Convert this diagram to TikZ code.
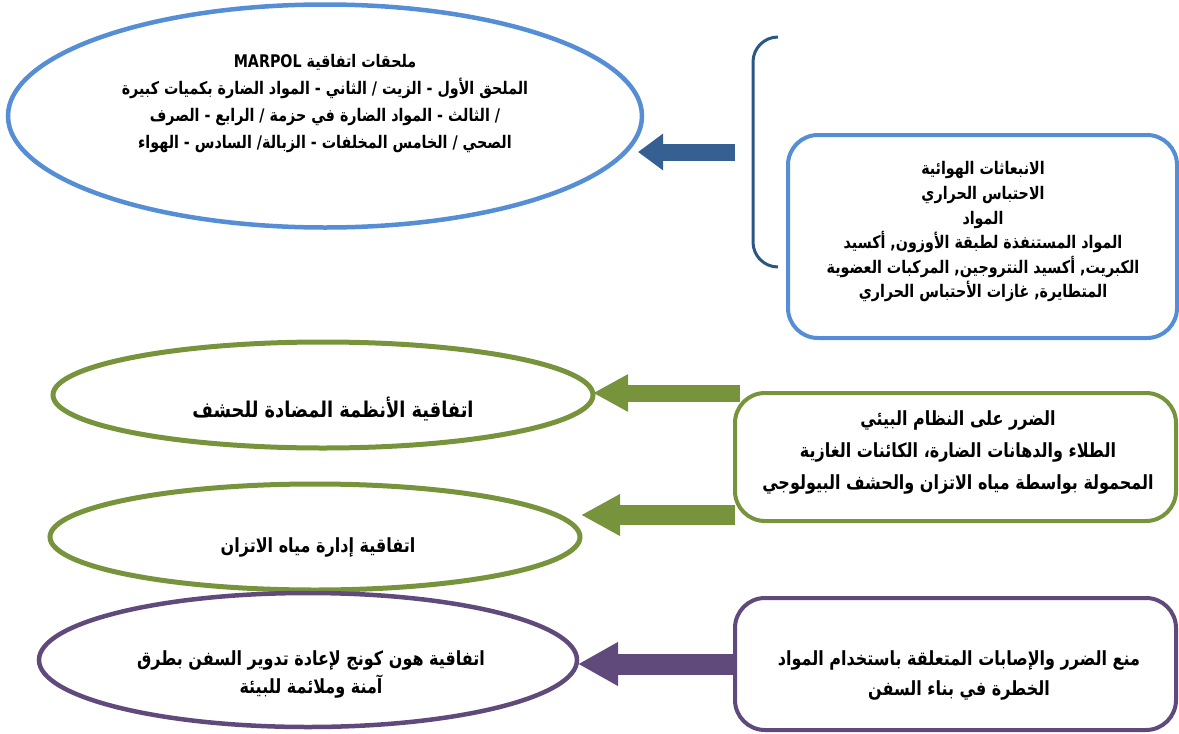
\documentclass[tikz,border=0pt]{standalone}
\usepackage{fontspec}
\usetikzlibrary{shapes.geometric,arrows.meta}
\TeXXeTstate=1
\newfontfamily\arabicfont[Script=Arabic,FakeStretch=0.82]{DejaVu Sans}
\newcommand{\ar}[1]{\beginR #1\endR}
\newcommand{\arsize}[2]{\arabicfont\bfseries\fontsize{#1}{#2}\selectfont}
\definecolor{skyline}{HTML}{558ED5}
\definecolor{navyline}{HTML}{2B5784}
\definecolor{navyarrow}{HTML}{376092}
\definecolor{oliveline}{HTML}{77933C}
\definecolor{plumline}{HTML}{604A7B}
\tikzset{
  ell/.style={ellipse, draw, fill=white, inner sep=0pt},
  panel/.style={rectangle, draw, fill=white, rounded corners=30pt, line width=4pt, inner sep=0pt},
  txt/.style={align=center, inner sep=0pt}
}
\begin{document}
\begin{tikzpicture}[x=1pt,y=-1pt]
\useasboundingbox (0,0) rectangle (1179,734);

% ---- MARPOL annexes and the air emissions panel
\node[ell, draw=skyline, line width=4.5pt, minimum width=634pt, minimum height=223pt] (marpol) at (325,116) {};
\node[txt, font=\arsize{17.4}{27}] (marpolT) at (325,104) {\ar{ملحقات اتفاقية \beginL MARPOL\endL{}}\\
  \ar{الملحق الأول - الزيت / الثاني - المواد الضارة بكميات كبيرة}\\
  \ar{/ الثالث - المواد الضارة في حزمة / الرابع - الصرف}\\
  \ar{الصحي / الخامس المخلفات - الزبالة/ السادس - الهواء}};

\node[panel, draw=skyline, minimum width=389pt, minimum height=203pt] (air) at (982.5,236.5) {};
\node[txt, font=\arsize{17.4}{24.6}] (airT) at (983,232) {\ar{الانبعاثات الهوائية}\\
  \ar{الاحتباس الحراري}\\
  \ar{المواد}\\
  \ar{المواد المستنفذة لطبقة الأوزون, أكسيد}\\
  \ar{الكبريت, أكسيد النتروجين, المركبات العضوية}\\
  \ar{المتطايرة, غازات الأحتباس الحراري}};

% bracket to the left of the air panel
\draw[navyline, line width=3pt, rounded corners=25pt] (778,37) -- (753,37) -- (753,267) -- (778,267);

\coordinate (airTail) at (735,152);
\coordinate (marpolTip) at (638,152);
\draw[navyarrow, line width=17pt, -{Triangle[length=25pt,width=35pt]}] (airTail) -- (marpolTip);

% ---- ecosystem harm: anti-fouling and ballast water
\node[ell, draw=oliveline, line width=5pt, minimum width=540pt, minimum height=106pt] (afs) at (323,395) {};
\node[txt, font=\arsize{21.7}{27}] (afsT) at (333,409) {\ar{اتفاقية الأنظمة المضادة للحشف}};

\node[ell, draw=oliveline, line width=5pt, minimum width=530pt, minimum height=106pt] (bwm) at (315,537) {};
\node[txt, font=\arsize{19.5}{27}] (bwmT) at (318,547) {\ar{اتفاقية إدارة مياه الاتزان}};

\coordinate (ecoTailA) at (740,393);
\coordinate (afsTip) at (593,393);
\coordinate (ecoTailB) at (735,515);
\coordinate (bwmTip) at (581,515);
\draw[oliveline, line width=17pt, -{Triangle[length=35pt,width=35pt]}] (ecoTailA) -- (afsTip);
\draw[oliveline, line width=20pt, -{Triangle[length=39pt,width=39pt]}] (ecoTailB) -- (bwmTip);

\node[panel, draw=oliveline, minimum width=441pt, minimum height=128pt] (eco) at (955.5,457) {};
\node[txt, font=\arsize{19.5}{32}] (ecoT) at (958,452) {\ar{الضرر على النظام البيئي}\\
  \ar{الطلاء والدهانات الضارة، الكائنات الغازية}\\
  \ar{المحمولة بواسطة مياه الاتزان والحشف البيولوجي}};

% ---- ship recycling
\node[ell, draw=plumline, line width=4.5pt, minimum width=538pt, minimum height=134pt] (hk) at (308,660) {};
\node[txt, font=\arsize{19.5}{28}] (hkT) at (311,674) {\ar{اتفاقية هون كونج لإعادة تدوير السفن بطرق}\\
  \ar{آمنة وملائمة للبيئة}};

\coordinate (hazTail) at (735,664);
\coordinate (hkTip) at (578,664);
\draw[plumline, line width=21pt, -{Triangle[length=40pt,width=41pt]}] (hazTail) -- (hkTip);

\node[panel, draw=plumline, minimum width=441pt, minimum height=132pt] (haz) at (955.5,664) {};
\node[txt, font=\arsize{19.5}{30}] (hazT) at (959,675) {\ar{منع الضرر والإصابات المتعلقة باستخدام المواد}\\
  \ar{الخطرة في بناء السفن}};
\end{tikzpicture}
\end{document}
